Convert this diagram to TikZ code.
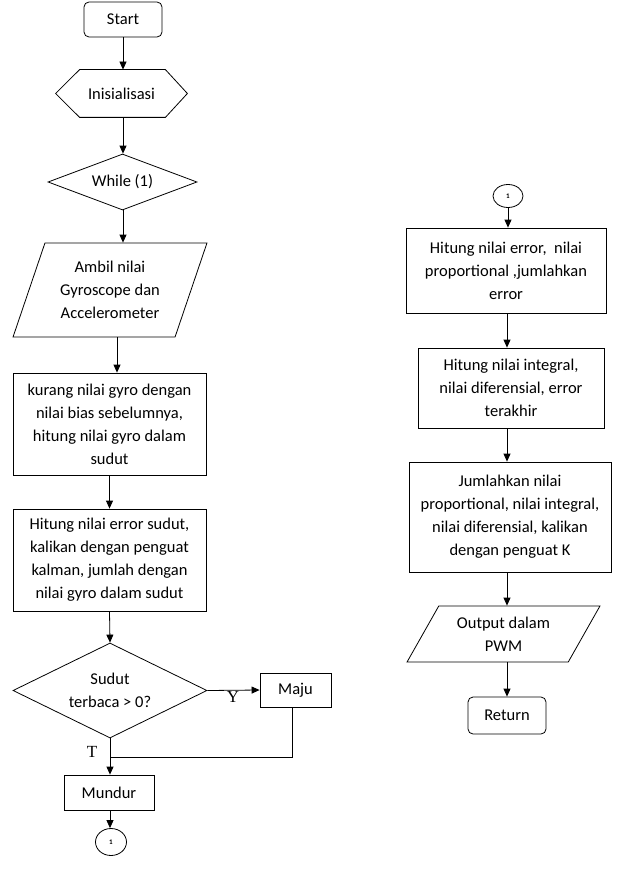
\documentclass[tikz,border=0pt]{standalone}
\usepackage{fontspec}
\setmainfont{Carlito}
\newfontfamily\labelfont{Liberation Serif}
\usetikzlibrary{shapes.geometric,arrows.meta}

\begin{document}
\begin{tikzpicture}[x=1pt,y=-1pt,>={Triangle[length=8pt,width=7pt]},line width=0.8pt,
    every node/.style={font=\fontsize{16.5}{23}\selectfont,align=center},
    term node/.style={rectangle,rounded corners=5pt,draw,minimum width=78pt,minimum height=35pt},
    proc node/.style={rectangle,draw,inner sep=0pt},
    io node/.style={trapezium,draw,trapezium stretches=true,inner sep=0pt},
    dec node/.style={diamond,draw,inner sep=0pt},
    con node/.style={ellipse,draw,inner sep=0pt,font=\fontsize{7}{8}\selectfont\bfseries},
    yt label/.style={font=\labelfont\fontsize{17}{17}\selectfont}]
  \useasboundingbox (0,0) rectangle (624,888);

  % Nodes - left column
  \node[term node] (start) at (123,19.5) {Start};
  \node[minimum width=131pt,minimum height=47pt] (init) at (121.5,93.5) {Inisialisasi};
  \node[dec node,aspect=2.66,minimum width=149pt,minimum height=56pt] (while) at (122.5,182) {While (1)};
  \node[io node,trapezium left angle=67,trapezium right angle=113,
        minimum width=194pt,minimum height=94pt] (ambil) at (110,290)
        {Ambil nilai\\Gyroscope dan\\Accelerometer};
  \node[proc node,minimum width=193pt,minimum height=102pt] (kurang) at (109.5,424)
        {kurang nilai gyro dengan\\nilai bias sebelumnya,\\hitung nilai gyro dalam\\sudut};
  \node[proc node,minimum width=193pt,minimum height=102pt] (hitung) at (109.5,560)
        {Hitung nilai error sudut,\\kalikan dengan penguat\\kalman, jumlah dengan\\nilai gyro dalam sudut};
  \node[dec node,aspect=2.04,minimum width=194pt,minimum height=95pt] (cek) at (110,690.5)
        {Sudut\\terbaca > 0?};
  \node[proc node,minimum width=71pt,minimum height=34pt] (maju) at (295.5,690) {Maju};
  \node[proc node,minimum width=90pt,minimum height=35pt] (mundur) at (109,792.5) {Mundur};
  \node[con node,minimum width=31pt,minimum height=27pt] (con1) at (111,842) {1};
  \node[yt label] (ylab) at (233,697) {Y};
  \node[yt label] (tlab) at (92,752) {T};

  % Nodes - right column
  \node[con node,minimum width=30pt,minimum height=23pt] (con2) at (508,196) {1};
  \node[proc node,minimum width=200pt,minimum height=85pt] (errA) at (506,270.5)
        {Hitung nilai error,\ \ nilai\\proportional ,jumlahkan\\error};
  \node[proc node,minimum width=186pt,minimum height=80pt] (integ) at (511,388)
        {Hitung nilai integral,\\nilai diferensial, error\\terakhir};
  \node[proc node,minimum width=202pt,minimum height=110pt] (jumlah) at (510,517)
        {Jumlahkan nilai\\proportional, nilai integral,\\nilai diferensial, kalikan\\dengan penguat K};
  \node[io node,trapezium left angle=56.5,trapezium right angle=123.5,
        minimum width=193pt,minimum height=56pt] (output) at (503.5,634)
        {Output dalam\\PWM};
  \node[term node,minimum width=78pt,minimum height=37pt] (ret) at (507,715.5) {Return};

  \coordinate (lx) at (123,0);
  \coordinate (ax) at (117,0);
  \coordinate (jx) at (292,0);
  \coordinate (join) at (110,757);
  \coordinate (rx) at (507,0);

  % Inisialisasi outline
  \draw (init.west) -- ([xshift=24pt]init.north west) -- ([xshift=-22pt]init.north east)
     -- (init.east) -- ([xshift=-22pt]init.south east) -- ([xshift=24pt]init.south west) -- cycle;

  % Edges - left column
  \draw[->] (start.south -| lx) -- (init.north -| lx);
  \draw[->] (init.south -| lx) -- (while.north -| lx);
  \draw[->] (while.south -| lx) -- (ambil.top side -| lx);
  \draw[->] (ambil.bottom side -| ax) -- (kurang.north -| ax);
  \draw[->] (kurang.south) -- (hitung.north);
  \draw[->] (hitung.south) -- (cek.north);
  \draw[->] (cek.east) -- (maju.west);
  \draw (maju.south -| jx) |- (join);
  \draw[->] (cek.south) -- (mundur.north -| cek.south);
  \draw[->] (mundur.south -| cek.south) -- (con1.north -| cek.south);

  % Edges - right column
  \draw[->] (con2.south) -- (errA.north -| con2.south);
  \draw[->] (errA.south -| rx) -- (integ.north -| rx);
  \draw[->] (integ.south -| rx) -- (jumlah.north -| rx);
  \draw[->] (jumlah.south -| rx) -- (output.top side -| rx);
  \draw[->] (output.bottom side -| rx) -- (ret.north -| rx);
\end{tikzpicture}
\end{document}
